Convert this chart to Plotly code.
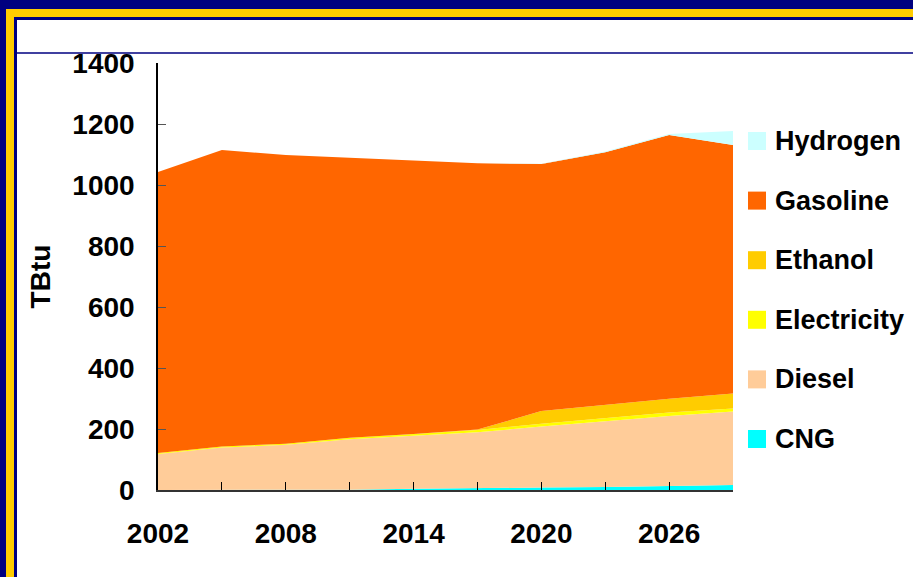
import plotly.graph_objects as go

years = [2002, 2005, 2008, 2011, 2014, 2017, 2020, 2023, 2026, 2029]
tick_labels = ["2002", "", "2008", "", "2014", "", "2020", "", "2026", ""]

cng = [0, 0, 0, 1, 4, 7, 8, 10, 12, 16]
diesel = [118, 139, 148, 165, 174, 182, 200, 216, 231, 241]
electricity = [3, 4, 4, 5, 6, 8, 9, 10, 11, 10]
ethanol = [0, 0, 0, 0, 0, 1, 42, 44, 45, 49]
gasoline = [922, 972, 946, 918, 895, 873, 810, 827, 865, 815]
hydrogen = [0, 0, 0, 0, 0, 0, 1, 3, 3, 46]

series_names = ["CNG", "Diesel", "Electricity", "Ethanol", "Gasoline", "Hydrogen"]
series_values = [cng, diesel, electricity, ethanol, gasoline, hydrogen]
series_colors = ["#00FFFF", "#FFCC99", "#FFFF00", "#FFCC00", "#FF6600", "#CCFFFF"]

W, H = 913, 577
L, R, T, B = 158, 180, 63, 87
pw, ph = W - L - R, H - T - B

def px(x):
    return (x - L) / pw

def py(y):
    return (H - B - y) / ph

fig = go.Figure()
for name, vals, col in zip(series_names, series_values, series_colors):
    fig.add_trace(go.Scatter(
        x=years, y=vals, name=name, mode="lines", stackgroup="one",
        line=dict(width=0, color=col), fillcolor=col, showlegend=False,
    ))

font_bold = dict(family="Liberation Sans, Arial, sans-serif", size=27, color="black", weight="bold")
tick_font = dict(family="Liberation Sans, Arial, sans-serif", size=28, color="black", weight="bold")

shapes = [
    dict(type="rect", xref="paper", yref="paper", x0=px(0), x1=px(W + 10), y0=py(0), y1=py(H + 10),
         fillcolor="#000080", line=dict(width=0), layer="below"),
    dict(type="rect", xref="paper", yref="paper", x0=px(6), x1=px(W + 10), y0=py(9), y1=py(H + 10),
         fillcolor="#FFCC00", line=dict(width=0), layer="below"),
    dict(type="rect", xref="paper", yref="paper", x0=px(14), x1=px(W + 10), y0=py(17), y1=py(H + 10),
         fillcolor="#000080", line=dict(width=0), layer="below"),
    dict(type="rect", xref="paper", yref="paper", x0=px(17), x1=px(W + 10), y0=py(20), y1=py(H + 10),
         fillcolor="white", line=dict(width=0), layer="below"),
    dict(type="line", xref="paper", yref="paper", x0=px(17), x1=px(W + 10), y0=py(53), y1=py(53),
         line=dict(color="#000080", width=1.5), layer="below"),
]

annotations = []
legend_order = list(reversed(range(len(series_names))))
for i, idx in enumerate(legend_order):
    yc = 141 + i * 59.6
    shapes.append(dict(type="rect", xref="paper", yref="paper",
                       x0=px(748), x1=px(766), y0=py(yc - 9), y1=py(yc + 9),
                       fillcolor=series_colors[idx], line=dict(width=0)))
    annotations.append(dict(xref="paper", yref="paper", x=px(773), y=py(yc),
                            xanchor="left", yanchor="middle", showarrow=False,
                            text=series_names[idx], font=font_bold))

fig.update_layout(
    width=W, height=H,
    margin=dict(l=L, r=R, t=T, b=B, pad=0),
    paper_bgcolor="white", plot_bgcolor="rgba(0,0,0,0)",
    shapes=shapes, annotations=annotations, showlegend=False,
    xaxis=dict(range=[years[0], years[-1]], tickvals=years, ticktext=tick_labels,
               ticks="inside", ticklen=8, tickcolor="black", tickwidth=1,
               showline=True, linecolor="#333333", linewidth=2,
               showgrid=False, zeroline=False, tickfont=tick_font, ticklabelstandoff=17),
    yaxis=dict(range=[0, 1400], dtick=200, ticks="inside", ticklen=8, tickcolor="#555555",
               showline=True, linecolor="black", linewidth=1.5,
               showgrid=False, zeroline=False, tickfont=tick_font, ticklabelstandoff=16,
               title=dict(text="TBtu", font=tick_font, standoff=14)),
)

fig.write_html(
    "out.html",
    config={"displayModeBar": False},
    post_script="document.body.style.margin='0';document.body.style.overflow='hidden';",
)
